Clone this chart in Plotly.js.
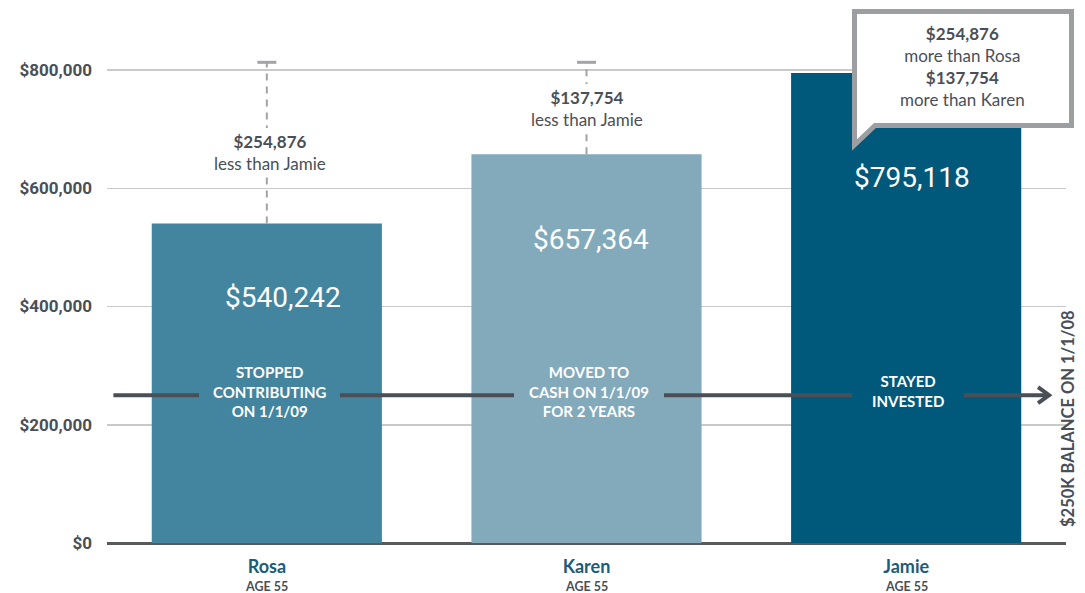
<!DOCTYPE html>
<html>
<head>
<meta charset="utf-8">
<script src="https://cdn.plot.ly/plotly-3.0.1.min.js"></script>
<style>html,body{margin:0;padding:0;background:#fff;}#chart{width:1085px;height:593px;}</style>
</head>
<body>
<div id="chart"></div>
<script>
// ---- data ----
const categories = ['Rosa', 'Karen', 'Jamie'];
const balances = [540242, 657364, 795118];
const ageLabels = ['AGE 55', 'AGE 55', 'AGE 55'];
const strategyLabels = ['STOPPED<br>CONTRIBUTING<br>ON 1/1/09', 'MOVED TO<br>CASH ON 1/1/09<br>FOR 2 YEARS', 'STAYED<br>INVESTED'];
const startBalance = 250000;
const startBalanceLabel = '$250K BALANCE ON 1/1/08';
const yTickVals = [0, 200000, 400000, 600000, 800000];
const yTickText = ['$0', '$200,000', '$400,000', '$600,000', '$800,000'];
const capLevel = 813000;

// ---- styling ----
const barColors = ['#43859f', '#82aabb', '#00587a'];
const darkText = '#4a4f57';
const nameColor = '#1b5c79';
const greyLine = '#a3a4a7';

const fmt = v => '$' + v.toLocaleString('en-US');
const jamie = balances[2];

// plot geometry helpers (pixels -> paper)
const L = 107, R = 19, T = 0, B = 50, W = 1085, H = 593;
const PW = W - L - R, PH = H - T - B;
const px = x => (x - L) / PW;
const py = y => (H - B - y) / PH;

const annotations = [];
const shapes = [];

// horizontal start-balance line with arrow head
shapes.push({type: 'line', layer: 'above', xref: 'x', yref: 'y', x0: -0.48, x1: 2.44, y0: startBalance, y1: startBalance,
  line: {color: darkText, width: 4}});
shapes.push({type: 'path', layer: 'above', xref: 'x', yref: 'y', xsizemode: 'pixel', ysizemode: 'pixel',
  xanchor: 2.447, yanchor: startBalance, path: 'M-11,8 L0,0 L-11,-8',
  line: {color: darkText, width: 4}});

// dashed difference lines with caps (Rosa, Karen)
[0, 1].forEach(i => {
  shapes.push({type: 'line', layer: 'above', xref: 'x', yref: 'y', x0: i, x1: i, y0: balances[i], y1: capLevel,
    line: {color: greyLine, width: 2, dash: '7px,6px'}});
  shapes.push({type: 'line', layer: 'above', xref: 'x', yref: 'y', xsizemode: 'pixel', xanchor: i,
    x0: -9.5, x1: 9.5, y0: capLevel, y1: capLevel, line: {color: greyLine, width: 3}});
});

// callout box
const cb = {l: 854.5, r: 1071.5, t: 11.5, b: 125.5, tipX: 854.5, tipY: 145, joinX: 875};
shapes.push({type: 'path', layer: 'above', xref: 'paper', yref: 'paper',
  path: `M${px(cb.l)},${py(cb.t)} L${px(cb.r)},${py(cb.t)} L${px(cb.r)},${py(cb.b)} L${px(cb.joinX)},${py(cb.b)} L${px(cb.tipX)},${py(cb.tipY)} Z`,
  fillcolor: '#ffffff', line: {color: '#9d9ea2', width: 5}});

// value labels inside bars
const valueLabelShift = [-74, -85, -105];
const valueLabelX = [16, 4, 6];
categories.forEach((c, i) => {
  annotations.push({x: c, y: balances[i], xref: 'x', yref: 'y', yshift: valueLabelShift[i], xshift: valueLabelX[i],
    text: fmt(balances[i]), showarrow: false, xanchor: 'center', yanchor: 'middle',
    font: {family: 'Roboto, sans-serif', size: 28, color: '#ffffff'}});
});

// strategy labels on the start-balance line
const padStrategy = [14, 15, 20];
categories.forEach((c, i) => {
  annotations.push({x: c, y: startBalance, xref: 'x', yref: 'y', xshift: i === 0 ? 3 : 2, yshift: 4,
    text: '<b>' + strategyLabels[i] + '</b>', showarrow: false, xanchor: 'center', yanchor: 'middle',
    bgcolor: barColors[i], borderpad: padStrategy[i], borderwidth: 0,
    font: {family: 'Lato, sans-serif', size: 15, color: '#ffffff'}});
});

// difference notes above Rosa & Karen
const noteY = [661300, 735700];
[0, 1].forEach(i => {
  annotations.push({x: categories[i], y: noteY[i], xref: 'x', yref: 'y', xshift: i === 0 ? 3 : 0,
    text: '<b>' + fmt(jamie - balances[i]) + '</b><br>less than Jamie', showarrow: false, xanchor: 'center', yanchor: 'middle',
    bgcolor: '#ffffff', borderpad: 3, borderwidth: 0,
    font: {family: 'Lato, sans-serif', size: 17, color: darkText}});
});

// callout text
annotations.push({xref: 'paper', yref: 'paper', x: px(962), y: py(66), showarrow: false, xanchor: 'center', yanchor: 'middle',
  text: '<b>' + fmt(jamie - balances[0]) + '</b><br>more than Rosa<br><b>' + fmt(jamie - balances[1]) + '</b><br>more than Karen',
  font: {family: 'Lato, sans-serif', size: 17, color: darkText}});

// rotated label
annotations.push({xref: 'paper', yref: 'paper', x: px(1068), y: py(419), showarrow: false, textangle: -90,
  xanchor: 'center', yanchor: 'middle',
  text: '<b>' + startBalanceLabel + '</b>',
  font: {family: 'Lato, sans-serif', size: 16.5, color: darkText}});

// age labels under names
categories.forEach((c, i) => {
  annotations.push({x: c, xref: 'x', yref: 'paper', y: 0, yshift: -43.5, showarrow: false,
    xanchor: 'center', yanchor: 'middle', text: '<b>' + ageLabels[i] + '</b>',
    font: {family: 'Lato, sans-serif', size: 12.5, color: darkText}});
});

const trace = {
  type: 'bar', x: categories, y: balances, width: 0.72,
  marker: {color: barColors, line: {width: 0}},
  hoverinfo: 'none'
};

const layout = {
  width: W, height: H,
  margin: {l: L, r: R, t: T, b: B, pad: 0},
  paper_bgcolor: '#ffffff', plot_bgcolor: '#ffffff',
  showlegend: false,
  xaxis: {
    range: [-0.5, 2.5], type: 'category',
    tickvals: categories,
    ticktext: categories.map(c => '<b>' + c + '</b>'),
    tickfont: {family: 'Lato, sans-serif', size: 18, color: nameColor},
    ticks: '', showline: false, showgrid: false, zeroline: false,
    ticklabelstandoff: 11, fixedrange: true
  },
  yaxis: {
    range: [0, 918400],
    tickmode: 'array', tickvals: yTickVals, ticktext: yTickText,
    tickfont: {family: 'Roboto, sans-serif', size: 17, color: darkText, weight: 'bold'},
    ticks: '', showline: false,
    showgrid: true, gridcolor: '#c9c9c9', gridwidth: 1.5,
    zeroline: true, zerolinecolor: '#58595b', zerolinewidth: 3,
    ticklabelstandoff: 14, fixedrange: true
  },
  shapes: shapes,
  annotations: annotations
};

Plotly.newPlot('chart', [trace], layout, {displayModeBar: false, staticPlot: true});
</script>
</body>
</html>
